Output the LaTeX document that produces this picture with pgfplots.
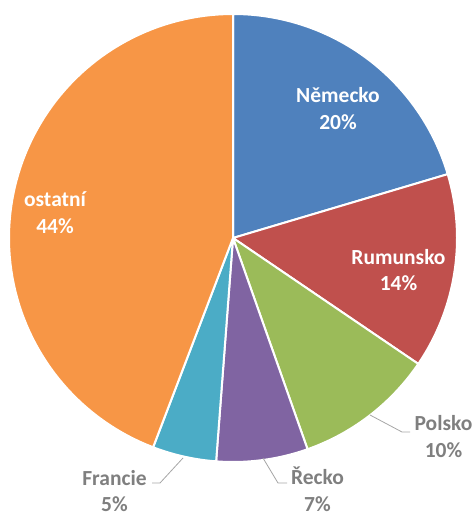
\documentclass[border=0pt]{standalone}
\usepackage{pgfplots}
\pgfplotsset{compat=1.18}
\usepackage{pgfplotstable}
\usepackage{fontspec}
\setmainfont{Carlito}
\definecolor{cBlue}{HTML}{4F81BD}
\definecolor{cRed}{HTML}{C0504D}
\definecolor{cGreen}{HTML}{9BBB59}
\definecolor{cPurple}{HTML}{8064A2}
\definecolor{cAqua}{HTML}{4BACC6}
\definecolor{cOrange}{HTML}{F79646}
\definecolor{lblgray}{HTML}{7F7F7F}
\definecolor{linegray}{HTML}{A6A6A6}

\pgfplotstableread[col sep=comma]{
name,value,color
Německo,20.4,cBlue
Rumunsko,14.1,cRed
Polsko,10.1,cGreen
Řecko,6.6,cPurple
Francie,4.6,cAqua
ostatní,44.2,cOrange
}\piedata

\begin{document}
\begin{tikzpicture}
\begin{axis}[
  x=1pt, y=1pt,
  xmin=-233, xmax=240, ymin=-278, ymax=238,
  hide axis, clip=false,
]
\path (axis cs:-233,-278) rectangle (axis cs:240,238);
\pgfmathsetmacro\cum{0}
\pgfplotsforeachungrouped \i in {0,...,5}{%
  \pgfplotstablegetelem{\i}{value}\of\piedata \let\v\pgfplotsretval
  \pgfplotstablegetelem{\i}{color}\of\piedata \let\c\pgfplotsretval
  \pgfmathsetmacro\a{90-3.6*\cum}%
  \pgfmathsetmacro\b{90-3.6*(\cum+\v)}%
  \edef\temp{\noexpand\addplot[fill=\c, draw=white, line width=2pt, line join=round, domain=\b:\a, samples=90, variable=\noexpand\t] ({224*cos(\noexpand\t)},{224*sin(\noexpand\t)}) -- (axis cs:0,0) -- cycle;}%
  \temp
  \pgfmathsetmacro\cum{\cum+\v}%
}
% leader lines
\addplot[linegray, line width=0.8pt, no marks] coordinates {(137,-177) (169,-194) (177,-194)};
\addplot[linegray, line width=0.8pt, no marks] coordinates {(-50,-220) (-73,-245) (-81,-245)};
\addplot[linegray, line width=0.8pt, no marks] coordinates {(30,-220) (45,-245) (54,-245)};
% labels
\tikzset{lbl/.style={font=\fontsize{21.5}{26.5}\selectfont\bfseries, align=center, inner sep=0pt}}
\node[lbl, text=white] at (axis cs:105,129.5) {Německo\\20\%};
\node[lbl, text=white] at (axis cs:165.5,-32) {Rumunsko\\14\%};
\node[lbl, text=white] at (axis cs:-178,25.5) {ostatní\\44\%};
\node[lbl, text=lblgray] at (axis cs:210.5,-198.5) {Polsko\\10\%};
\node[lbl, text=lblgray] at (axis cs:84.5,-251) {Řecko\\7\%};
\node[lbl, text=lblgray] at (axis cs:-118.5,-253) {Francie\\5\%};
\end{axis}
\end{tikzpicture}
\end{document}
